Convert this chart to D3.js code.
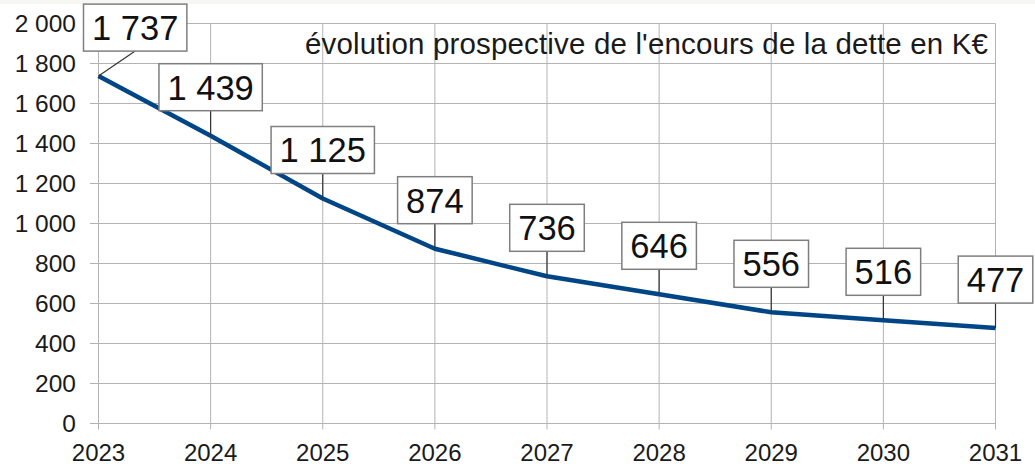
<!DOCTYPE html>
<html><head><meta charset="utf-8">
<script src="https://cdn.jsdelivr.net/npm/d3@7"></script>
<style>html,body{margin:0;padding:0;background:#fff;}svg{display:block;font-family:"Liberation Sans",Arial,sans-serif;}</style>
</head><body>
<svg id="c" width="1035" height="466"></svg>
<script>
const years = [2023, 2024, 2025, 2026, 2027, 2028, 2029, 2030, 2031];
const debt = [1737, 1439, 1125, 874, 736, 646, 556, 516, 477];
const yTicks = [0, 200, 400, 600, 800, 1000, 1200, 1400, 1600, 1800, 2000];
const title = "évolution prospective de l'encours de la dette en K€";

const fr = d3.formatLocale({decimal: ",", thousands: "\u00a0", grouping: [3], currency: ["", " €"]});
const fmt = fr.format(",d");

const svg = d3.select("#c");
svg.append("rect").attr("x",0).attr("y",0).attr("width",1035).attr("height",4).attr("fill","#f6f6f4");

const x = d3.scaleLinear().domain([2023, 2031]).range([98.5, 995.5]);
const y = d3.scaleLinear().domain([0, 2000]).range([423.5, 23.5]);

// grid
const g = svg.append("g");
g.selectAll("line.h").data(yTicks).join("line")
  .attr("x1", 90).attr("x2", x(2031)).attr("y1", d => y(d)).attr("y2", d => y(d))
  .attr("stroke", "#b3b3b3").attr("stroke-width", 1);
g.selectAll("line.v").data(years).join("line")
  .attr("x1", d => x(d)).attr("x2", d => x(d)).attr("y1", y(2000)).attr("y2", y(0) + 6)
  .attr("stroke", "#b3b3b3").attr("stroke-width", 1);

// axis labels
svg.append("g").selectAll("text").data(yTicks).join("text")
  .attr("x", 76).attr("y", d => y(d)).attr("dy", "0.35em")
  .attr("text-anchor", "end").attr("font-size", 24.5).attr("fill", "#1a1a1a")
  .text(d => fmt(d));
svg.append("g").selectAll("text").data(years).join("text")
  .attr("x", d => x(d)).attr("y", 461)
  .attr("text-anchor", "middle").attr("font-size", 24).attr("fill", "#1a1a1a")
  .text(d => d);

// line
const line = d3.line().x((d, i) => x(years[i])).y(d => y(d));
svg.append("path").datum(debt).attr("d", line)
  .attr("fill", "none").attr("stroke", "#004586").attr("stroke-width", 4.5)
  .attr("stroke-linejoin", "round");

// title
svg.append("text").attr("x", 305).attr("y", 54).attr("font-size", 29.5)
  .attr("textLength", 683).attr("lengthAdjust", "spacing")
  .attr("fill", "#1a1a1a").text(title);

// data labels
const lg = svg.append("g");
debt.forEach((v, i) => {
  const px = x(years[i]), py = y(v);
  const t = lg.append("text").attr("font-size", 34.5).attr("fill", "#111").text(fmt(v));
  const w = t.node().getComputedTextLength() + 17;
  const h = 47;
  let left = px - w / 2;
  if (left < x(2023) - 15) left = x(2023) - 15;
  const bottom = py - 25;
  lg.insert("line", "text").attr("x1", left + w / 2).attr("y1", bottom).attr("x2", px).attr("y2", py)
    .attr("stroke", "#333").attr("stroke-width", 1.2);
  lg.insert("rect", "text").attr("x", left).attr("y", bottom - h).attr("width", w).attr("height", h)
    .attr("fill", "#fff").attr("stroke", "#7f7f7f").attr("stroke-width", 1.5);
  t.attr("x", left + w / 2).attr("y", bottom - h / 2).attr("dy", "0.36em").attr("text-anchor", "middle");
});
</script>
</body></html>
